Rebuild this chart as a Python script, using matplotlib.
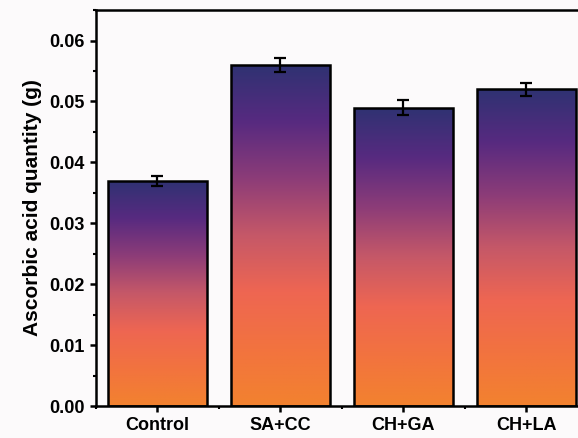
import matplotlib.pyplot as plt
import numpy as np
from matplotlib.colors import LinearSegmentedColormap
from matplotlib.ticker import MultipleLocator

plt.rcParams['font.family'] = ['Liberation Sans', 'DejaVu Sans']
plt.rcParams['font.weight'] = 'bold'

groups = ['Control', 'SA+CC', 'CH+GA', 'CH+LA']
ascorbic = [0.037, 0.056, 0.049, 0.052]
err = [0.0008, 0.0011, 0.0013, 0.0011]

# bottom-to-top fill colours
grad = LinearSegmentedColormap.from_list(
    'bar', ['#f2822f', '#f2733f', '#ee6652', '#c55868', '#8c3c78', '#572a80', '#2f3272'])

fig = plt.figure(figsize=(5.78, 4.38), dpi=100, facecolor='#fcfafb')
ax = fig.add_axes([0.166, 0.073, 0.851, 0.904])
ax.set_facecolor('#fcfafb')

x = np.arange(len(groups))
width = 0.8
bars = ax.bar(x, ascorbic, width, color='none', edgecolor='black', linewidth=1.8, zorder=3)
ramp = np.linspace(0, 1, 256).reshape(-1, 1)
for b in bars:
    x0, h = b.get_x(), b.get_height()
    im = ax.imshow(ramp, cmap=grad, origin='lower', aspect='auto',
                   extent=[x0, x0 + width, 0, h], zorder=2)
    im.set_clip_path(b)

ax.errorbar(x, ascorbic, yerr=err, fmt='none', ecolor='black',
            elinewidth=1.6, capsize=4, capthick=1.6, zorder=4)

ax.set_xlim(-0.5, 3.5)
ax.set_ylim(0, 0.065)
ax.set_xticks(x)
ax.set_xticklabels(groups)
ax.xaxis.set_minor_locator(MultipleLocator(1, offset=0.5))
ax.yaxis.set_major_locator(MultipleLocator(0.01))
ax.yaxis.set_minor_locator(MultipleLocator(0.005))
ax.yaxis.set_major_formatter(plt.FormatStrFormatter('%.2f'))
ax.tick_params(which='major', direction='out', length=4.5, width=1.8, labelsize=13)
ax.tick_params(which='minor', direction='out', length=2.5, width=1.5)
for s in ax.spines.values():
    s.set_linewidth(1.8)
ax.set_ylabel('Ascorbic acid quantity (g)', fontsize=15, fontweight='bold', labelpad=5)

plt.savefig('out.png', dpi=100, facecolor=fig.get_facecolor())
plt.close()
